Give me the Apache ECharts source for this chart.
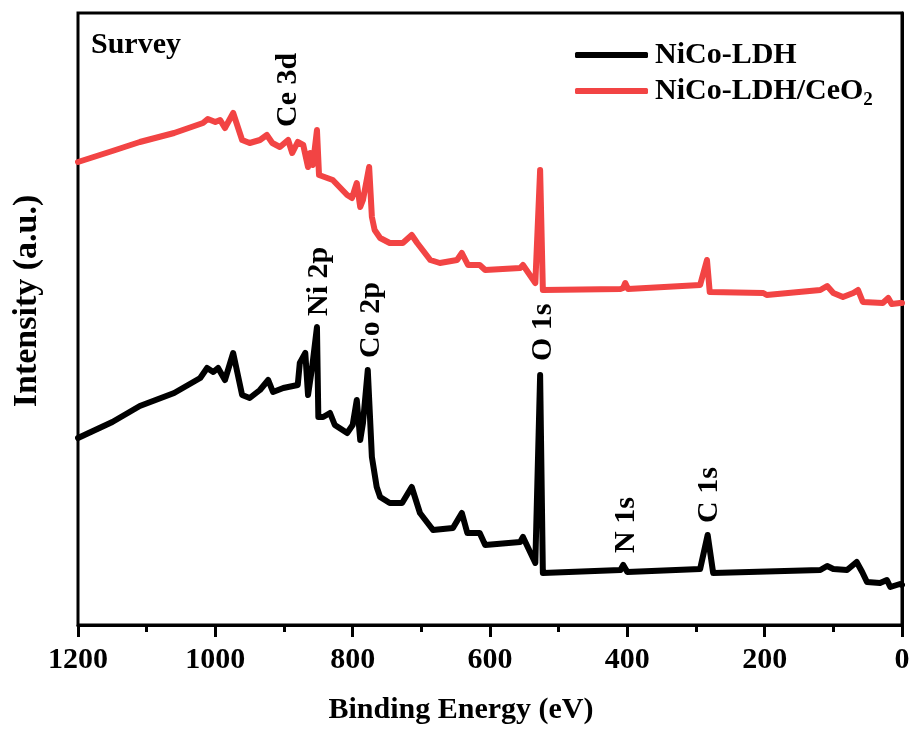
<!DOCTYPE html>
<html>
<head>
<meta charset="utf-8">
<script src="https://cdn.jsdelivr.net/npm/echarts@6/dist/echarts.min.js"></script>
<style>
  html, body { margin: 0; padding: 0; background: #fff; }
  #chart { width: 914px; height: 731px; }
</style>
</head>
<body>
<div id="chart"></div>
<script>
// survey spectra (intensity in arbitrary units)
const ldhEnergy = [1200, 1150, 1110, 1060, 1022, 1012, 1003, 996, 986, 974, 961, 950, 935, 923, 916, 901, 880, 877, 869, 865, 859, 852, 850, 843, 833, 826, 808, 800, 794, 789, 785, 778, 772, 765, 760, 746, 728, 714, 702, 683, 654, 641, 633, 615, 607, 556, 552, 534, 527, 523, 410, 406, 400, 294, 283, 275, 119, 109, 100, 80, 66, 58, 51, 32, 22, 17, 3, 0];
const ldhIntensity = [187, 203, 219, 232, 247, 257, 253, 257, 245, 272, 230, 227, 235, 245, 233, 237, 240, 262, 272, 230, 258, 298, 208, 208, 212, 200, 192, 200, 225, 185, 202, 255, 168, 138, 128, 122, 122, 138, 112, 95, 97, 112, 92, 92, 80, 83, 88, 62, 250, 52, 55, 60, 53, 56, 90, 52, 55, 59, 56, 55, 63, 53, 43, 42, 45, 38, 41, 40];

const ceEnergy = [1200, 1150, 1110, 1060, 1018, 1011, 1000, 993, 986, 974, 961, 950, 935, 925, 917, 906, 894, 888, 880, 872, 865, 862, 858, 852, 849, 837, 829, 808, 801, 794, 789, 785, 776, 772, 768, 760, 746, 727, 714, 706, 687, 673, 648, 641, 632, 615, 607, 556, 552, 534, 527, 523, 410, 406, 403, 399, 294, 284, 280, 202, 197, 119, 109, 100, 86, 71, 64, 57, 28, 20, 15, 3, 0];
const ceIntensity = [463, 474, 483, 492, 502, 506, 503, 505, 497, 512, 485, 482, 485, 490, 482, 478, 485, 472, 483, 480, 458, 472, 460, 495, 450, 447, 445, 430, 427, 442, 418, 425, 458, 408, 395, 387, 382, 382, 390, 382, 365, 362, 365, 372, 360, 360, 355, 357, 360, 342, 455, 335, 336, 337, 342, 336, 340, 365, 333, 332, 330, 335, 339, 332, 328, 332, 335, 323, 322, 327, 321, 322, 322];

const seriesNames = ['NiCo-LDH', 'NiCo-LDH/CeO2'];
const seriesColors = ['#000000', '#f24444'];

const peakNames = ['Ce 3d', 'Ni 2p', 'Co 2p', 'O 1s', 'N 1s', 'C 1s'];
const peakEnergy = [894, 848, 773, 523, 402, 281];
const peakLabelBase = [498, 309, 267, 264, 72, 102];

const serif = '"Times New Roman", "Liberation Serif", serif';

function zip(xs, ys) {
    return xs.map((x, i) => [x, ys[i]]);
}

const chart = echarts.init(document.getElementById('chart'), null, { renderer: 'canvas' });

chart.setOption({
    animation: false,
    textStyle: { fontFamily: serif, fontWeight: 'bold', color: '#000' },
    grid: {
        left: 78, right: 12, top: 13, bottom: 106,
        show: true, borderColor: '#000', borderWidth: 3
    },
    legend: {
        orient: 'vertical',
        left: 575,
        top: 40,
        padding: 0,
        itemGap: 6,
        itemWidth: 73,
        itemHeight: 6,
        icon: 'roundRect',
        data: seriesNames,
        formatter: name => name === 'NiCo-LDH/CeO2' ? 'NiCo-LDH/CeO{sub|2}' : name,
        textStyle: {
            fontFamily: serif, fontWeight: 'bold', fontSize: 30, color: '#000',
            lineHeight: 30, padding: [0, 0, 0, 2],
            rich: {
                sub: { fontFamily: serif, fontWeight: 'bold', fontSize: 19, lineHeight: 19, verticalAlign: 'top', padding: [15, 0, 0, 0] }
            }
        }
    },
    xAxis: {
        type: 'value',
        inverse: true,
        min: 0,
        max: 1200,
        interval: 200,
        name: 'Binding Energy (eV)',
        nameLocation: 'middle',
        nameGap: 70,
        nameTextStyle: { fontSize: 30, fontWeight: 'bold', fontFamily: serif, color: '#000', padding: [0, 58, 0, 0] },
        axisLine: { onZero: false, lineStyle: { color: '#000', width: 3 } },
        axisTick: { inside: false, length: 12, lineStyle: { color: '#000', width: 3 } },
        minorTick: { show: true, splitNumber: 2, length: 7, lineStyle: { color: '#000', width: 3 } },
        axisLabel: {
            fontSize: 30, fontWeight: 'bold', fontFamily: serif, color: '#000', margin: 20,
            formatter: v => String(v)
        },
        splitLine: { show: false }
    },
    yAxis: {
        type: 'value',
        min: 0,
        max: 612,
        name: 'Intensity (a.u.)',
        nameLocation: 'middle',
        nameGap: 34,
        nameTextStyle: { fontSize: 34, fontWeight: 'bold', fontFamily: serif, color: '#000', padding: [0, 0, 0, 36] },
        axisLine: { show: true, lineStyle: { color: '#000', width: 3 } },
        axisTick: { show: false },
        axisLabel: { show: false },
        splitLine: { show: false }
    },
    series: [
        {
            name: seriesNames[0],
            type: 'line',
            data: zip(ldhEnergy, ldhIntensity),
            showSymbol: false,
            color: seriesColors[0],
            lineStyle: { width: 6, color: seriesColors[0], join: 'round', cap: 'round' }
        },
        {
            name: seriesNames[1],
            type: 'line',
            data: zip(ceEnergy, ceIntensity),
            showSymbol: false,
            color: seriesColors[1],
            lineStyle: { width: 6, color: seriesColors[1], join: 'round', cap: 'round' }
        }
    ]
});

// peak labels are anchored at data coordinates, text runs upward
const labelFont = 'bold 30px ' + serif;
const graphics = peakNames.map((name, i) => {
    const p = chart.convertToPixel({ gridIndex: 0 }, [peakEnergy[i], peakLabelBase[i]]);
    return {
        type: 'text',
        x: p[0],
        y: p[1],
        rotation: Math.PI / 2,
        style: { text: name, font: labelFont, fill: '#000', align: 'left', verticalAlign: 'middle' }
    };
});
graphics.push({
    type: 'text',
    left: 91,
    top: 30,
    style: { text: 'Survey', font: labelFont, fill: '#000' }
});
chart.setOption({ graphic: graphics });
</script>
</body>
</html>
